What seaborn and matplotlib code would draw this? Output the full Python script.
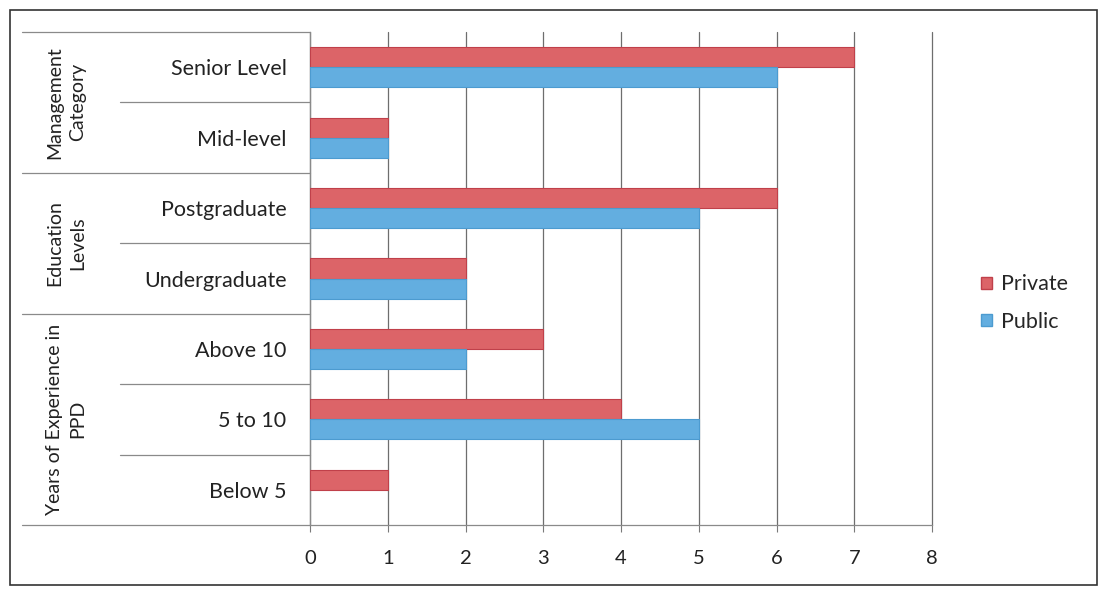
import matplotlib
matplotlib.use("Agg")
import matplotlib.pyplot as plt
import matplotlib.patches as mpatches
import seaborn as sns
import pandas as pd

# Data
categories = ["Senior Level", "Mid-level", "Postgraduate", "Undergraduate",
              "Above 10", "5 to 10", "Below 5"]
private_vals = [7, 1, 6, 2, 3, 4, 1]
public_vals = [6, 1, 5, 2, 2, 5, 0]
series_names = ["Private", "Public"]
group_labels = ["Management\nCategory", "Education\nLevels", "Years of Experience in\nPPD"]
group_spans = [(0, 1), (2, 3), (4, 6)]
x_ticks = [0, 1, 2, 3, 4, 5, 6, 7, 8]

df = pd.DataFrame({
    "Category": categories * 2,
    "Sector": [series_names[0]] * len(categories) + [series_names[1]] * len(categories),
    "Count": private_vals + public_vals,
})

sns.set_theme(style="white")
plt.rcParams["font.family"] = ["Lato", "DejaVu Sans"]

W, H = 1101, 590
fig = plt.figure(figsize=(W / 100, H / 100), dpi=100)
x0, x1, y0, y1 = 310, 932, 32, 525
ax = fig.add_axes([x0 / W, 1 - y1 / H, (x1 - x0) / W, (y1 - y0) / H])

palette = {"Private": "#dc6468", "Public": "#63aee0"}
edge = {"Private": "#c0404a", "Public": "#4c9bd0"}
sns.barplot(data=df, y="Category", x="Count", hue="Sector", order=categories,
            hue_order=series_names, palette=palette, width=0.57,
            orient="h", ax=ax, legend=False, saturation=1)
for cont, name in zip(ax.containers, series_names):
    for bar in cont:
        bar.set_edgecolor(edge[name])
        bar.set_linewidth(0.8 if bar.get_width() > 0 else 0)
        bar.set_zorder(3)

ax.set_xlim(0, 8)
ax.set_ylim(len(categories) - 0.5, -0.5)
ax.set_xticks(x_ticks)
ax.set_xlabel("")
ax.set_ylabel("")
ax.grid(axis="x", color="#6e6e6e", linewidth=0.9, zorder=0)
ax.grid(axis="y", visible=False)
ax.set_axisbelow(True)
for gl in ax.get_xgridlines():
    gl.set_clip_on(False)

for side in ["top", "right"]:
    ax.spines[side].set_visible(False)
ax.spines["bottom"].set_color("#8a8a8a")
ax.spines["bottom"].set_linewidth(0.9)
ax.spines["left"].set_color("#8a8a8a")
ax.spines["left"].set_linewidth(0.9)

ax.tick_params(axis="x", which="both", bottom=True, length=5, width=0.8,
               color="#7a7a7a", pad=13, labelsize=14.5, labelcolor="#222222")
ax.tick_params(axis="y", length=0, pad=17, labelsize=15.5, labelcolor="#222222")

# Category separators on the left side
ytr = ax.get_yaxis_transform()
long_x = (22 - x0) / (x1 - x0)
short_x = (120 - x0) / (x1 - x0)
long_b = [-0.5, 1.5, 3.5, 6.5]
short_b = [0.5, 2.5, 4.5, 5.5]
for b in long_b:
    ax.plot([long_x, 0], [b, b], transform=ytr, color="#8a8a8a", lw=0.9, clip_on=False)
for b in short_b:
    ax.plot([short_x, 0], [b, b], transform=ytr, color="#8a8a8a", lw=0.9, clip_on=False)

grp_x = (66 - x0) / (x1 - x0)
for lab, (a, b) in zip(group_labels, group_spans):
    ax.text(grp_x, (a + b) / 2, lab, transform=ytr, rotation=90, ha="center",
            va="center", multialignment="center", fontsize=14, color="#222222",
            linespacing=1.45)

handles = [mpatches.Patch(facecolor=palette[n], edgecolor=edge[n], label=n) for n in series_names]
fig.legend(handles=handles, loc="center left", bbox_to_anchor=(962 / W, 1 - 303 / H),
           frameon=False, fontsize=15.5, handlelength=0.5, handleheight=0.5,
           handletextpad=0.4, labelspacing=0.8)

# Outer frame
fig.patches.append(mpatches.Rectangle((10 / W, 5 / H), 1087 / W, 575 / H,
                                      transform=fig.transFigure, fill=False,
                                      edgecolor="#333333", linewidth=1.2))

fig.savefig("out.png", dpi=100)
